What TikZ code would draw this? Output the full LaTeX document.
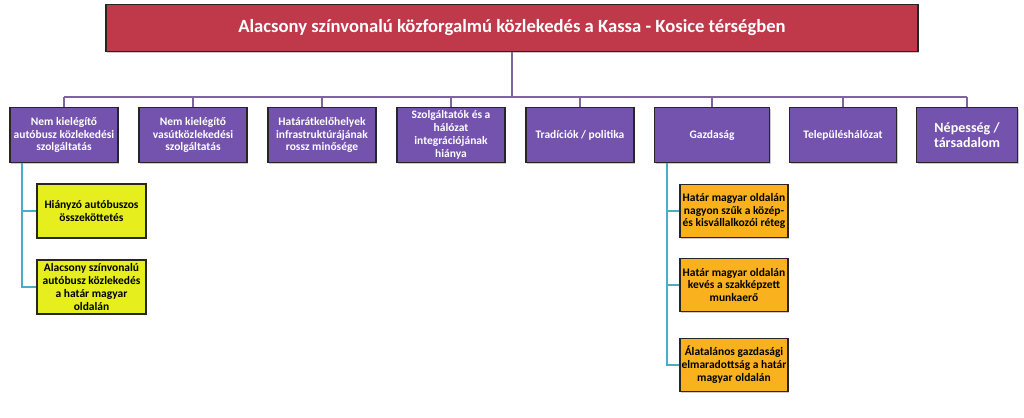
\documentclass[tikz,border=0pt]{standalone}
\usepackage{fontspec}
\setmainfont{Carlito}
\usetikzlibrary{positioning,shadows}
\definecolor{titlered}{HTML}{C0394B}
\definecolor{boxviolet}{HTML}{7453AE}
\definecolor{boxyellow}{HTML}{E6EE1E}
\definecolor{boxorange}{HTML}{F9B21E}
\definecolor{linkteal}{HTML}{4BACC6}
\definecolor{linkviolet}{HTML}{8064A2}
\tikzset{box/.style={draw=black!85,line width=1.2pt,align=center,font=\bfseries\fontsize{9.8}{11}\selectfont,
    inner sep=1pt,drop shadow={shadow xshift=1pt,shadow yshift=-1pt,opacity=.4}}}
\begin{document}
\begin{tikzpicture}[x=0.03cm,y=-0.03cm,
    cause/.style={box,fill=boxviolet,text=white,minimum height=1.65cm},
    sub/.style={box,fill=boxyellow,text=black,minimum width=3.27cm,minimum height=1.62cm},
    subo/.style={box,fill=boxorange,text=black,minimum width=3.24cm,minimum height=1.6cm},
    bus/.style={linkviolet,line width=1.8pt},
    leg/.style={linkteal,line width=1.8pt}]
\useasboundingbox (0,0) rectangle (1024,418);
\node[box,fill=titlered,text=white,minimum width=24.36cm,minimum height=1.41cm,font=\bfseries\fontsize{15.9}{18}\selectfont] (Title) at (512,28) {Alacsony színvonalú közforgalmú közlekedés a Kassa - Kosice térségben};
\coordinate (BusLeft) at (64,97);
% level one
\node[cause,minimum width=3.24cm] (Bus) at (64,135) {Nem kielégítő\\autóbusz közlekedési\\szolgáltatás};
\node[cause,minimum width=3.24cm] (Rail) at (193,135) {Nem kielégítő\\vasútközlekedési\\szolgáltatás};
\node[cause,minimum width=3.24cm] (Border) at (322,135) {Határátkelőhelyek\\infrastruktúrájának\\rossz minősége};
\node[cause,minimum width=3.24cm] (Integr) at (451,135) {Szolgáltatók és a\\hálózat\\integrációjának\\hiánya};
\node[cause,minimum width=3.24cm] (Trad) at (580,135) {Tradíciók / politika};
\node[cause,minimum width=3.45cm] (Econ) at (712,135) {Gazdaság};
\node[cause,minimum width=3.21cm] (Settl) at (843,135) {Településhálózat};
\node[cause,minimum width=3.03cm,font=\bfseries\fontsize{12}{13}\selectfont] (Pop) at (967,135) {Népesség /\\társadalom};
\draw[bus] (Title.south) -- (512,97);
\draw[bus] (64,97) -- (967,97);
\foreach \n in {Bus,Rail,Border,Integr,Trad,Econ,Settl,Pop}
  \draw[bus] (\n.north) -- (\n.north |- BusLeft);
% level two
\node[sub] (NoLink) at (91.5,211) {Hiányzó autóbuszos\\összeköttetés};
\node[sub] (LowBus) at (91.5,287) {Alacsony színvonalú\\autóbusz közlekedés\\a határ magyar\\oldalán};
\node[subo] (Sme) at (734,211) {Határ magyar oldalán\\nagyon szűk a közép-\\és kisvállalkozói réteg};
\node[subo] (Skill) at (734,285) {Határ magyar oldalán\\kevés a szakképzett\\munkaerő};
\node[subo] (Lag) at (734,365) {Álatalános gazdasági\\elmaradottság a határ\\magyar oldalán};
\draw[leg] (22,163) |- (LowBus.west);
\draw[leg] (NoLink.west) -- (NoLink.west -| 22,0);
\draw[leg] (667,163) |- (Lag.west);
\foreach \n in {Sme,Skill}
  \draw[leg] (\n.west) -- (\n.west -| 667,0);
\end{tikzpicture}
\end{document}
